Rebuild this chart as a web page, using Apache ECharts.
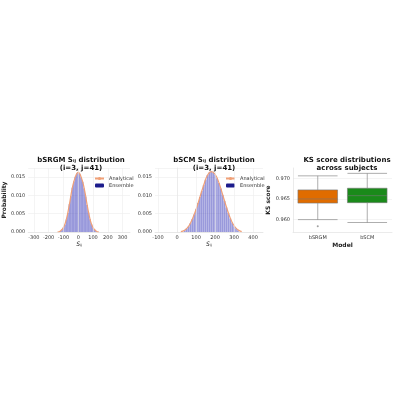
<!DOCTYPE html><html><head><meta charset="utf-8">
<script src="https://cdn.jsdelivr.net/npm/echarts@6/dist/echarts.min.js"></script>
<style>html,body{margin:0;background:#fff}#c{width:400px;height:400px}</style></head><body><div id="c"></div>
<script>
const curve1X=[-140,-120,-100,-80,-60,-40,-20,0,20,40,60,80,100,120,140];
const curve1Y=[0,0.0003,0.0012,0.0035,0.0075,0.012,0.015,0.0163,0.015,0.012,0.0075,0.0035,0.0012,0.0003,0];
const hist1X=[-120,-110,-100,-90,-80,-70,-60,-50,-40,-30,-20,-10,0,10,20,30,40,50,60,70,80,90,100,110,120];
const hist1Y=[0.0003,0.0007,0.0012,0.002,0.0034,0.0052,0.0076,0.0098,0.0121,0.0138,0.0151,0.016,0.0164,0.0159,0.0149,0.0137,0.0119,0.0097,0.0074,0.0053,0.0035,0.0021,0.0012,0.0006,0.0003];
const curve2X=[20,40,60,80,100,120,140,160,180,200,220,240,260,280,300,320,340];
const curve2Y=[0.0001,0.0005,0.0015,0.0035,0.0062,0.0095,0.0128,0.0155,0.0165,0.0158,0.0135,0.0102,0.0068,0.0038,0.0017,0.0006,0.0001];
const hist2X=[40,50,60,70,80,90,100,110,120,130,140,150,160,170,180,190,200,210,220,230,240,250,260,270,280,290,300,310,320];
const hist2Y=[0.0005,0.0009,0.0015,0.0024,0.0035,0.0048,0.0062,0.0079,0.0096,0.0112,0.0129,0.0143,0.0156,0.0163,0.0166,0.0163,0.0157,0.0147,0.0134,0.0119,0.0101,0.0085,0.0067,0.0052,0.0037,0.0026,0.0016,0.001,0.0005];
const ticks1=[-300,-200,-100,0,100,200,300];
const ticks2=[-100,0,100,200,300,400];
const models=['bSRGM','bSCM'];
const boxes=[[0.9600,0.9640,0.9650,0.9672,0.9706],[0.9593,0.9641,0.9658,0.9676,0.9712]];
const outliers=[[0,0.9584]];
const boxColors=['#e06c00','#1a8a1a'];

const F='DejaVu Sans';
const lbl={fontSize:5,color:'#333',fontFamily:F,margin:3};
const sl={show:true,lineStyle:{color:'#ececec',width:0.6}};
const al={show:true,lineStyle:{color:'#ddd',width:0.6}};
const pair=(xs,ys)=>xs.map((x,i)=>[x,ys[i]]);
const valX=(min,max,i,tk)=>({type:'value',gridIndex:i,min,max,interval:1,
  axisLabel:Object.assign({},lbl,{customValues:tk}),
  axisTick:{show:false,customValues:tk},
  splitLine:{show:false},axisLine:al,
  name:'Sᵢⱼ',nameLocation:'middle',nameGap:9,nameTextStyle:{fontSize:6,fontFamily:F,fontStyle:'italic',color:'#222'}});
const probY=(i,name)=>({type:'value',gridIndex:i,min:0,max:0.0175,interval:0.005,axisLabel:Object.assign({},lbl,{showMaxLabel:false,formatter:v=>v.toFixed(3)}),splitLine:sl,axisLine:al,axisTick:{show:false},name:name,nameLocation:'middle',nameGap:17,nameTextStyle:{fontSize:6,fontWeight:'bold',fontFamily:F,color:'#222'}});
const vlines=(tk)=>({type:'line',silent:true,symbol:'none',lineStyle:{opacity:0},data:[],markLine:{silent:true,symbol:'none',label:{show:false},lineStyle:{color:'#ececec',width:0.6,type:'solid'},data:tk.map(t=>({xAxis:t}))},z:0});
const tstyle={fontSize:7,fontWeight:'bold',fontFamily:F,color:'#111',lineHeight:8};
const legData=[{name:'Analytical',itemStyle:{color:'#f0a077'}},{name:'Ensemble',itemStyle:{color:'#1c1c8c'}}];
const option={
 animation:false,
 title:[
  {text:'bSRGM Sᵢⱼ distribution\n(i=3, j=41)',left:76,top:151,textAlign:'center',textStyle:tstyle},
  {text:'bSCM Sᵢⱼ distribution\n(i=3, j=41)',left:209,top:151,textAlign:'center',textStyle:tstyle},
  {text:'KS score distributions\nacross subjects',left:342,top:151,textAlign:'center',textStyle:tstyle}],
 legend:[
  {left:89,top:171,orient:'vertical',itemWidth:9,itemHeight:4,itemGap:2,textStyle:{fontSize:5,fontFamily:F,color:'#333'},data:legData},
  {left:220,top:171,orient:'vertical',itemWidth:9,itemHeight:4,itemGap:2,textStyle:{fontSize:5,fontFamily:F,color:'#333'},data:legData}],
 grid:[
  {left:21,width:109,top:168,height:64},
  {left:155,width:108,top:168,height:64},
  {left:293,width:99,top:168,height:64}],
 xAxis:[valX(-338,350,0,ticks1),valX(-116,452,1,ticks2),
  {type:'category',gridIndex:2,data:models,axisLabel:lbl,axisLine:al,axisTick:{show:false},splitLine:{show:false},name:'Model',nameLocation:'middle',nameGap:10,nameTextStyle:{fontSize:6,fontWeight:'bold',fontFamily:F,color:'#222'}}],
 yAxis:[probY(0,'Probability'),probY(1,''),
  {type:'value',gridIndex:2,min:0.957,max:0.9725,interval:0.001,axisLine:al,axisTick:{show:false},
   axisLabel:Object.assign({},lbl,{formatter:v=>{const k=Math.round(v*1000);return k%5===0?(k/1000).toFixed(3):'';}}),
   splitLine:{show:true,lineStyle:{color:['rgba(0,0,0,0)','rgba(0,0,0,0)','rgba(0,0,0,0)','#ececec','rgba(0,0,0,0)'],width:0.6}},
   name:'KS score',nameLocation:'middle',nameGap:20,nameTextStyle:{fontSize:6,fontWeight:'bold',fontFamily:F,color:'#222'}}],
 series:[
  Object.assign(vlines(ticks1),{xAxisIndex:0,yAxisIndex:0}),
  Object.assign(vlines(ticks2),{xAxisIndex:1,yAxisIndex:1}),
  {name:'Ensemble',type:'bar',xAxisIndex:0,yAxisIndex:0,barWidth:1.5,itemStyle:{color:'rgba(70,70,190,0.55)'},data:pair(hist1X,hist1Y)},
  {name:'Analytical',type:'line',xAxisIndex:0,yAxisIndex:0,smooth:true,symbol:'none',lineStyle:{color:'#f0a077',width:1.2},itemStyle:{color:'#f0a077'},data:pair(curve1X,curve1Y)},
  {name:'Ensemble',type:'bar',xAxisIndex:1,yAxisIndex:1,barWidth:1.7,itemStyle:{color:'rgba(70,70,190,0.55)'},data:pair(hist2X,hist2Y)},
  {name:'Analytical',type:'line',xAxisIndex:1,yAxisIndex:1,smooth:true,symbol:'none',lineStyle:{color:'#f0a077',width:1.2},itemStyle:{color:'#f0a077'},data:pair(curve2X,curve2Y)},
  {type:'boxplot',xAxisIndex:2,yAxisIndex:2,boxWidth:['80%','80%'],data:boxes.map((b,i)=>({value:b,itemStyle:{color:boxColors[i],borderColor:'#777',borderWidth:0.6}}))},
  {type:'scatter',xAxisIndex:2,yAxisIndex:2,symbolSize:2,itemStyle:{color:'#888'},data:outliers}
 ]};
const ch=echarts.init(document.getElementById('c'));
ch.setOption(option);
</script></body></html>
